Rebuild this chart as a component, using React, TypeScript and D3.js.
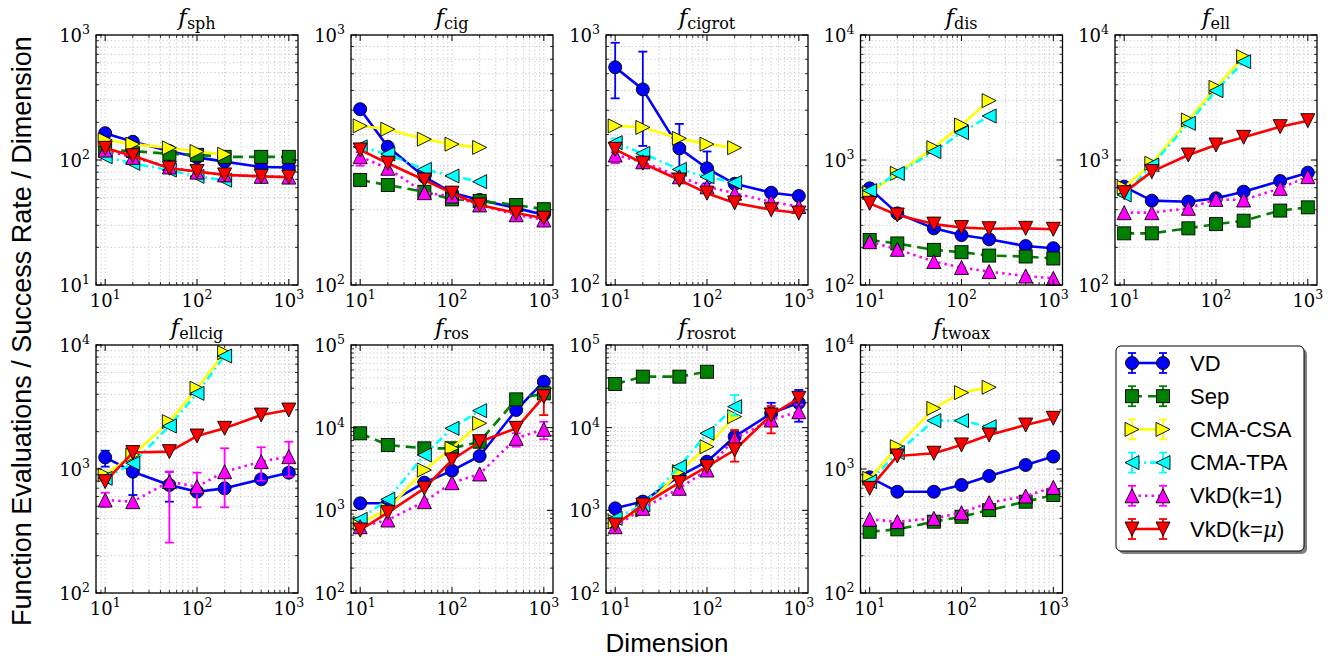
import React from 'react';
import * as d3 from 'd3';

// ---------------- data ----------------
const DIMS = [10, 20, 50, 100, 200, 500, 1000];
const PANEL_NAMES = ['sph', 'cig', 'cigrot', 'dis', 'ell', 'ellcig', 'ros', 'rosrot', 'twoax'];
const Y_EXPONENTS = [[1, 3], [2, 3], [2, 3], [2, 4], [2, 4], [2, 4], [2, 5], [2, 5], [2, 4]];
const X_EXPONENTS = [1, 2, 3];
const SERIES_NAMES = ['VD', 'Sep', 'CMA-CSA', 'CMA-TPA', 'VkD(k=1)', 'VkD(k=μ)'];

// values per panel (null = not run); x = first n dimensions
const VD_VALUES = [
  [164, 140, 118, 105, 97, 88, 87],
  [505, 357, 271, 234, 219, 203, 191],
  [743, 606, 352, 293, 254, 234, 227],
  [593, 374, 284, 251, 232, 205, 197],
  [612, 473, 464, 494, 558, 679, 792],
  [1241, 951, 743, 656, 698, 826, 934],
  [1217, 1217, 2158, 3020, 4540, 16360, 35980],
  [1057, 1275, 2600, 3880, 7780, 14900, 20000],
  [857, 656, 656, 743, 879, 1077, 1259],
];
const SEP_VALUES = [
  [120, 118, 112, 110, 106, 106, 106],
  [263, 251, 236, 220, 217, 209, 201],
  null,
  [229, 215, 191, 183, 172, 169, 163],
  [259, 259, 284, 307, 327, 394, 418],
  null,
  [8550, 6166, 5623, 5623, 6761, 22000, 26000],
  [33750, 41400, 41400, 47500],
  [312, 326, 376, 412, 466, 545, 617],
];
const CSA_VALUES = [
  [145, 134, 125, 117, 111],
  [433, 420, 383, 366, 355],
  [433, 427, 386, 366, 354],
  [548, 782, 1255, 1905, 2985],
  [604, 940, 2090, 3813, 6708],
  [896, 1297, 2410, 4478, 8670],
  [697, 1031, 3076, 5623, 11300],
  [729, 1010, 2935, 5886, 13600],
  [841, 1514, 3083, 4131, 4562],
];
const TPA_VALUES = [
  [106, 94, 83, 74, 69],
  [357, 334, 290, 273, 259],
  [371, 336, 290, 271, 257],
  [569, 780, 1166, 1655, 2250],
  [525, 912, 1965, 3586, 6115],
  [841, 1112, 2223, 4073, 8150],
  [778, 1360, 4667, 9820, 16060],
  [800, 1161, 3373, 8550, 17950],
  [791, 1356, 2455, 2455, 2194],
];
const K1_VALUES = [
  [120, 105, 88, 80, 76, 74, 73],
  [326, 293, 234, 227, 209, 191, 182],
  [331, 311, 271, 247, 233, 215, 206],
  [222, 193, 154, 138, 128, 118, 113],
  [379, 379, 411, 484, 479, 593, 736],
  [562, 545, 791, 720, 951, 1147, 1259],
  [634, 764, 1275, 2158, 2754, 7430, 9550],
  [634, 1057, 1846, 3076, 7430, 12390, 15600],
  [393, 376, 400, 444, 535, 606, 711],
];
const KMU_VALUES = [
  [124, 108, 86, 81, 76, 74, 73],
  [347, 307, 263, 233, 209, 194, 185],
  [349, 307, 263, 233, 213, 200, 194],
  [450, 363, 307, 288, 282, 284, 279],
  [548, 807, 1096, 1318, 1518, 1848, 2064],
  [791, 1357, 1380, 1845, 2128, 2722, 2990],
  [578, 938, 1846, 4064, 6761, 9820, 23700],
  [665, 1161, 2158, 3373, 5370, 14230, 22660],
  [698, 1274, 1340, 1563, 1880, 2263, 2563],
];
const ALL_VALUES = [VD_VALUES, SEP_VALUES, CSA_VALUES, TPA_VALUES, K1_VALUES, KMU_VALUES];

// visible error bars: [panel, series index, dimension, low, high]
const ERROR_BARS: [string, number, number, number, number][] = [
  ['cigrot', 0, 10, 558, 931],
  ['cigrot', 0, 20, 360, 858],
  ['cigrot', 0, 50, 290, 441],
  ['cigrot', 0, 100, 255, 342],
  ['cigrot', 3, 10, 355, 386],
  ['cigrot', 4, 10, 307, 340],
  ['cig', 4, 10, 300, 340],
  ['ellcig', 0, 10, 1045, 1405],
  ['ellcig', 0, 20, 617, 1100],
  ['ellcig', 0, 50, 545, 951],
  ['ellcig', 4, 10, 497, 644],
  ['ellcig', 4, 50, 255, 951],
  ['ellcig', 4, 100, 491, 934],
  ['ellcig', 4, 200, 491, 1469],
  ['ellcig', 4, 500, 805, 1497],
  ['ellcig', 4, 1000, 867, 1660],
  ['ros', 5, 1000, 14200, 28600],
  ['ros', 4, 1000, 7230, 11800],
  ['ros', 4, 500, 5890, 8550],
  ['rosrot', 3, 200, 14000, 24800],
  ['rosrot', 0, 1000, 11800, 28600],
  ['rosrot', 0, 500, 11000, 20000],
  ['rosrot', 5, 500, 8550, 18300],
  ['rosrot', 5, 200, 3880, 9380],
  ['rosrot', 4, 1000, 12970, 19000],
];

// ---------------- styles / layout ----------------
const W = 1333;
const H = 660;
const COL_X = [96, 351, 606, 860.5, 1115];
const PANEL_W = 202;
const ROW_Y = [35, 345];
const PANEL_H = [250, 248];
const X_DOMAIN = [Math.pow(10, 0.9), Math.pow(10, 3.1)];

const STYLES = [
  { color: '#0000ff', dash: undefined as string | undefined, marker: 'o' },
  { color: '#008000', dash: '10,6', marker: 's' },
  { color: '#ffff00', dash: undefined, marker: '>' },
  { color: '#00ffff', dash: '8,4,2,4', marker: '<' },
  { color: '#ff00ff', dash: '2.5,4', marker: '^' },
  { color: '#ff0000', dash: undefined, marker: 'v' },
];

const SERIF = '"DejaVu Serif", serif';
const SANS = '"Liberation Sans", Arial, sans-serif';

function Marker({ type, x, y, fill }: { type: string; x: number; y: number; fill: string }) {
  const s = 7;
  const common = { fill, stroke: '#000', strokeWidth: 0.9 };
  if (type === 'o') return <circle cx={x} cy={y} r={6.5} {...common} />;
  if (type === 's') return <rect x={x - 6.5} y={y - 6.5} width={13} height={13} {...common} />;
  let pts = '';
  if (type === '>') pts = `${x + s},${y} ${x - s},${y - s} ${x - s},${y + s}`;
  if (type === '<') pts = `${x - s},${y} ${x + s},${y - s} ${x + s},${y + s}`;
  if (type === '^') pts = `${x},${y - s} ${x - s},${y + s} ${x + s},${y + s}`;
  if (type === 'v') pts = `${x},${y + s} ${x - s},${y - s} ${x + s},${y - s}`;
  return <polygon points={pts} {...common} />;
}

function logTicks(e0: number, e1: number, lo: number, hi: number) {
  const majors: number[] = [];
  const minors: number[] = [];
  for (let e = e0 - 1; e <= e1; e++) {
    for (let m = 1; m <= 9; m++) {
      const v = m * Math.pow(10, e);
      if (v < lo * 0.9999 || v > hi * 1.0001) continue;
      if (m === 1) majors.push(v);
      else minors.push(v);
    }
  }
  return { majors, minors };
}

function Panel({ idx }: { idx: number }) {
  const name = PANEL_NAMES[idx];
  const row = Math.floor(idx / 5);
  const col = idx % 5;
  const x0 = COL_X[col];
  const y0 = ROW_Y[row];
  const w = PANEL_W;
  const h = PANEL_H[row];
  const [e0, e1] = Y_EXPONENTS[idx];
  const xs = d3.scaleLog().domain(X_DOMAIN).range([x0, x0 + w]);
  const ys = d3.scaleLog().domain([Math.pow(10, e0), Math.pow(10, e1)]).range([y0 + h, y0]);
  const xt = logTicks(0, 3, X_DOMAIN[0], X_DOMAIN[1]);
  const yt = logTicks(e0, e1, Math.pow(10, e0), Math.pow(10, e1));
  const line = d3.line<[number, number]>().x((d) => xs(d[0])).y((d) => ys(d[1]));
  const gridStyle = { stroke: '#b8b8b8', strokeWidth: 0.8, strokeDasharray: '1.2,2.5' };

  return (
    <g>
      {/* grid */}
      {[...xt.majors, ...xt.minors].map((v, i) => (
        <line key={'gx' + i} x1={xs(v)} x2={xs(v)} y1={y0} y2={y0 + h} {...gridStyle} />
      ))}
      {[...yt.majors, ...yt.minors].map((v, i) => (
        <line key={'gy' + i} x1={x0} x2={x0 + w} y1={ys(v)} y2={ys(v)} {...gridStyle} />
      ))}
      {/* series */}
      {ALL_VALUES.map((arr, si) => {
        const vals = arr[idx];
        if (!vals) return null;
        const st = STYLES[si];
        const pts: [number, number][] = vals.map((v, k) => [DIMS[k], v]);
        const errs = ERROR_BARS.filter((e) => e[0] === name && e[1] === si);
        return (
          <g key={'s' + si}>
            <path
              d={line(pts) || ''}
              fill="none"
              stroke={st.color}
              strokeWidth={2.6}
              strokeDasharray={st.dash}
              strokeLinejoin="round"
            />
            {errs.map((e, k) => {
              const ex = xs(e[2]);
              const ya = ys(e[3]);
              const yb = ys(e[4]);
              return (
                <g key={'e' + k} stroke={st.color} strokeWidth={1.8}>
                  <line x1={ex} x2={ex} y1={ya} y2={yb} />
                  <line x1={ex - 4.5} x2={ex + 4.5} y1={ya} y2={ya} />
                  <line x1={ex - 4.5} x2={ex + 4.5} y1={yb} y2={yb} />
                </g>
              );
            })}
            {pts.map((p, k) => (
              <Marker key={'m' + k} type={st.marker} x={xs(p[0])} y={ys(p[1])} fill={st.color} />
            ))}
          </g>
        );
      })}
      {/* frame */}
      <rect x={x0} y={y0} width={w} height={h} fill="none" stroke="#000" strokeWidth={1.3} />
      {/* ticks, inward on all sides */}
      {xt.majors.map((v, i) => (
        <g key={'tx' + i} stroke="#000" strokeWidth={1}>
          <line x1={xs(v)} x2={xs(v)} y1={y0 + h} y2={y0 + h - 6} />
          <line x1={xs(v)} x2={xs(v)} y1={y0} y2={y0 + 6} />
        </g>
      ))}
      {xt.minors.map((v, i) => (
        <g key={'tmx' + i} stroke="#000" strokeWidth={0.8}>
          <line x1={xs(v)} x2={xs(v)} y1={y0 + h} y2={y0 + h - 3} />
          <line x1={xs(v)} x2={xs(v)} y1={y0} y2={y0 + 3} />
        </g>
      ))}
      {yt.majors.map((v, i) => (
        <g key={'ty' + i} stroke="#000" strokeWidth={1}>
          <line x1={x0} x2={x0 + 6} y1={ys(v)} y2={ys(v)} />
          <line x1={x0 + w} x2={x0 + w - 6} y1={ys(v)} y2={ys(v)} />
        </g>
      ))}
      {yt.minors.map((v, i) => (
        <g key={'tmy' + i} stroke="#000" strokeWidth={0.8}>
          <line x1={x0} x2={x0 + 3} y1={ys(v)} y2={ys(v)} />
          <line x1={x0 + w} x2={x0 + w - 3} y1={ys(v)} y2={ys(v)} />
        </g>
      ))}
      {/* tick labels */}
      {X_EXPONENTS.map((e) => (
        <text key={'lx' + e} x={xs(Math.pow(10, e))} y={y0 + h + 22} textAnchor="middle" fontFamily={SERIF} fontSize={18} fill="#000">
          10<tspan fontSize={12.5} dy={-8}>{e}</tspan>
        </text>
      ))}
      {d3.range(e0, e1 + 1).map((e) => (
        <text key={'ly' + e} x={x0 - 6} y={ys(Math.pow(10, e)) + 7} textAnchor="end" fontFamily={SERIF} fontSize={18} fill="#000">
          10<tspan fontSize={12.5} dy={-8}>{e}</tspan>
        </text>
      ))}
      {/* title */}
      <text x={x0 + w / 2} y={y0 - 10} textAnchor="middle" fontFamily={SERIF} fill="#000">
        <tspan fontStyle="italic" fontSize={23}>f</tspan>
        <tspan fontSize={16} dy={4}>{name}</tspan>
      </text>
    </g>
  );
}

function Legend() {
  const bx = 1116, by = 346, bw = 188, bh = 205;
  const rowY = (i: number) => 363 + i * 33.2;
  return (
    <g>
      <rect x={bx + 3} y={by + 3} width={bw} height={bh} rx={5} fill="#000" opacity={0.5} />
      <rect x={bx} y={by} width={bw} height={bh} rx={5} fill="#fff" stroke="#000" strokeWidth={1} />
      {SERIES_NAMES.map((nm, i) => {
        const st = STYLES[i];
        const y = rowY(i);
        const xa = 1132, xb = 1163;
        return (
          <g key={nm}>
            <line x1={xa} x2={xb} y1={y} y2={y} stroke={st.color} strokeWidth={2.6} strokeDasharray={st.dash} />
            {[xa, xb].map((xx) => (
              <g key={xx} stroke={st.color} strokeWidth={1.8}>
                <line x1={xx} x2={xx} y1={y - 10} y2={y + 10} />
                <line x1={xx - 4} x2={xx + 4} y1={y - 10} y2={y - 10} />
                <line x1={xx - 4} x2={xx + 4} y1={y + 10} y2={y + 10} />
              </g>
            ))}
            <Marker type={st.marker} x={xa} y={y} fill={st.color} />
            <Marker type={st.marker} x={xb} y={y} fill={st.color} />
            <text x={1190} y={y + 7.5} fontFamily={SANS} fontSize={22} fill="#000">
              {nm.includes('μ') ? (
                <>
                  VkD(k=<tspan fontFamily={SERIF} fontStyle="italic">μ</tspan>)
                </>
              ) : (
                nm
              )}
            </text>
          </g>
        );
      })}
    </g>
  );
}

export default function App() {
  return (
    <svg
      width={W}
      height={H}
      viewBox={`0 0 ${W} ${H}`}
      style={{ position: 'absolute', left: 0, top: 0, background: '#fff' }}
    >
      <rect x={0} y={0} width={W} height={H} fill="#fff" />
      {PANEL_NAMES.map((_, i) => (
        <Panel key={i} idx={i} />
      ))}
      <Legend />
      <text
        transform="translate(31,331) rotate(-90)"
        textAnchor="middle"
        fontFamily={SANS}
        fontSize={27}
        fill="#000"
      >
        Function Evaluations / Success Rate / Dimension
      </text>
      <text x={667} y={652} textAnchor="middle" fontFamily={SANS} fontSize={26} fill="#000">
        Dimension
      </text>
    </svg>
  );
}
